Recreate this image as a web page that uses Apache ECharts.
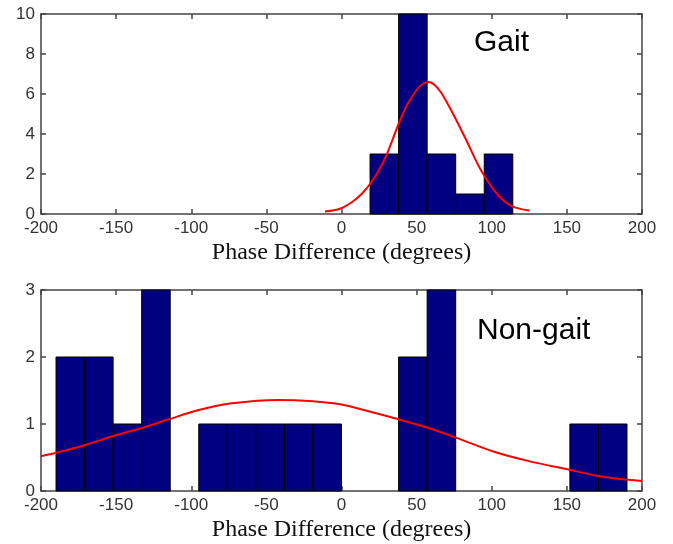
<!DOCTYPE html>
<html>
<head>
<meta charset="utf-8">
<script src="https://cdn.jsdelivr.net/npm/echarts@6/dist/echarts.min.js"></script>
<style>
html,body{margin:0;padding:0;background:#fff;}
#main{width:673px;height:544px;}
</style>
</head>
<body>
<div id="main"></div>
<script>
// histogram bins (centre of each bin, degrees) and counts
var binWidth = 19;
var gaitBins = [28.5, 47.5, 66.5, 85.5, 104.5];
var gaitCounts = [3, 10, 3, 1, 3];
var nonGaitBins = [-180.5, -161.5, -142.5, -123.5, -104.5, -85.5, -66.5, -47.5, -28.5, -9.5,
    9.5, 28.5, 47.5, 66.5, 85.5, 104.5, 123.5, 142.5, 161.5, 180.5];
var nonGaitCounts = [2, 2, 1, 3, 0, 1, 1, 1, 1, 1, 0, 0, 2, 3, 0, 0, 0, 0, 1, 1];

// fitted curves
var gaitFitX = [-11, -1, 8, 14, 20, 25, 30, 38, 44, 50, 54, 58, 62, 66, 70, 75, 83, 92, 100, 106, 114, 125];
var gaitFitY = [0.12, 0.26, 0.65, 1.05, 1.6, 2.2, 2.95, 4.5, 5.5, 6.2, 6.5, 6.6, 6.45, 6.1, 5.6, 4.9, 3.7, 2.3, 1.35, 0.8, 0.37, 0.17];
var nonGaitFitX = [-200, -190, -170, -152, -133, -115, -95, -73, -42, -19, 0, 18, 38, 58, 77, 101, 124, 151, 172, 189, 200];
var nonGaitFitY = [0.52, 0.57, 0.69, 0.82, 0.94, 1.07, 1.21, 1.31, 1.36, 1.34, 1.29, 1.19, 1.07, 0.94, 0.79, 0.59, 0.45, 0.32, 0.22, 0.17, 0.15];

var xTicks = {min:-200, max:200, interval:50};
var axisName = 'Phase Difference (degrees)';

function zip(a, b){
    var r = [];
    for(var i=0;i<a.length;i++) r.push([a[i], b[i]]);
    return r;
}

function renderBins(params, api){
    var n = api.value(1);
    if(!n) return null;
    var c = api.value(0);
    var p0 = api.coord([c - binWidth/2, n]);
    var p1 = api.coord([c + binWidth/2, 0]);
    return {
        type:'rect',
        shape:{x:p0[0], y:p0[1], width:p1[0]-p0[0], height:p1[1]-p0[1]},
        style:{fill:'#000080', stroke:'#000', lineWidth:1}
    };
}

var lineStyle = {color:'#444', width:1.5};
var labelStyle = {color:'#333', fontSize:17, fontFamily:'Liberation Sans, Arial, sans-serif', margin:6};

function xAx(grid, top){
    return {
        type:'value', gridIndex:grid, position: top ? 'top' : 'bottom',
        min:xTicks.min, max:xTicks.max, interval:xTicks.interval,
        axisLine:{show:true, onZero:false, lineStyle:lineStyle},
        axisTick:{show:true, inside:true, length:5, lineStyle:lineStyle},
        axisLabel: top ? {show:false} : labelStyle,
        splitLine:{show:false},
        name: top ? '' : axisName, nameLocation:'middle', nameGap:27,
        nameTextStyle:{fontFamily:'Liberation Serif, Times New Roman, serif', fontSize:24, color:'#111'}
    };
}
function yAx(grid, right, max, step){
    return {
        type:'value', gridIndex:grid, position: right ? 'right' : 'left',
        min:0, max:max, interval:step,
        axisLine:{show:true, onZero:false, lineStyle:lineStyle},
        axisTick:{show:true, inside:true, length:5, lineStyle:lineStyle},
        axisLabel: right ? {show:false} : labelStyle,
        splitLine:{show:false}
    };
}

var chart = echarts.init(document.getElementById('main'));
chart.setOption({
    animation:false,
    backgroundColor:'#fff',
    title:[
        {text:'Gait', left:474, top:28, textStyle:{fontFamily:'Liberation Sans, Arial, sans-serif', fontSize:30, fontWeight:'normal', color:'#000'}, padding:0},
        {text:'Non-gait', left:477, top:316, textStyle:{fontFamily:'Liberation Sans, Arial, sans-serif', fontSize:30, fontWeight:'normal', color:'#000'}, padding:0}
    ],
    grid:[
        {left:41, right:31, top:14, height:200},
        {left:41, right:31, top:290, height:201}
    ],
    xAxis:[xAx(0,false), xAx(0,true), xAx(1,false), xAx(1,true)],
    yAxis:[yAx(0,false,10,2), yAx(0,true,10,2), yAx(1,false,3,1), yAx(1,true,3,1)],
    series:[
        {type:'custom', xAxisIndex:0, yAxisIndex:0, renderItem:renderBins, encode:{x:0, y:1}, data:zip(gaitBins, gaitCounts), z:2},
        {type:'line', xAxisIndex:0, yAxisIndex:0, data:zip(gaitFitX, gaitFitY), smooth:0.3, showSymbol:false,
            lineStyle:{color:'#ff0000', width:2}, z:3},
        {type:'custom', xAxisIndex:2, yAxisIndex:2, renderItem:renderBins, encode:{x:0, y:1}, data:zip(nonGaitBins, nonGaitCounts), z:2},
        {type:'line', xAxisIndex:2, yAxisIndex:2, data:zip(nonGaitFitX, nonGaitFitY), smooth:0.3, showSymbol:false,
            lineStyle:{color:'#ff0000', width:2}, z:3}
    ]
});
</script>
</body>
</html>
